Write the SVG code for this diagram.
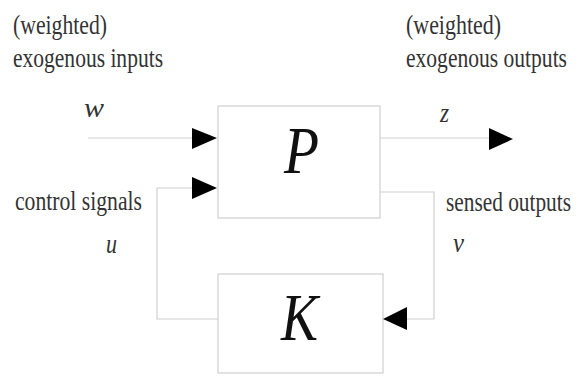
<svg xmlns="http://www.w3.org/2000/svg" width="579" height="376" viewBox="0 0 579 376">
<style>
.box{fill:#fff;stroke:#cfcfcf;stroke-width:1.2}
.ln{fill:none;stroke:#cfcfcf;stroke-width:1.2}
.ah{fill:#000}
text{font-family:'Liberation Serif','DejaVu Serif',serif}
.lbl{font-size:21px;fill:#333}
.var{font-style:italic;font-size:22px;fill:#333}
.big{font-style:italic;font-size:56px;fill:#111}
</style>
<rect width="579" height="376" fill="#fff"/>
<g id="P">
<rect class="box" x="218" y="106" width="162" height="112"/>
<text class="big" transform="translate(284,173) scale(1,1.2)" textLength="35" lengthAdjust="spacingAndGlyphs">P</text>
</g>
<g id="K">
<rect class="box" x="218" y="274" width="165" height="99"/>
<text class="big" transform="translate(281,340) scale(1,1.2)" textLength="37" lengthAdjust="spacingAndGlyphs">K</text>
</g>
<g id="connectors">
<line class="ln" x1="88" y1="138" x2="193" y2="138"/>
<polygon class="ah" points="192,128 217,138 192,149"/>
<line class="ln" x1="380" y1="138" x2="490" y2="138"/>
<polygon class="ah" points="489,128 513,139 489,150"/>
<polyline class="ln" points="218,319 157,319 157,188 193,188"/>
<polygon class="ah" points="192,177 217,188 192,199"/>
<polyline class="ln" points="380,192 434,192 434,319 406,319"/>
<polygon class="ah" points="407,307 383,319 407,330"/>
</g>
<g id="labels">
<text class="lbl" transform="translate(13,34) scale(1,1.3)" textLength="94" lengthAdjust="spacingAndGlyphs">(weighted)</text>
<text class="lbl" transform="translate(13,67) scale(1,1.3)" textLength="150" lengthAdjust="spacingAndGlyphs">exogenous inputs</text>
<text class="lbl" transform="translate(406,34) scale(1,1.3)" textLength="95" lengthAdjust="spacingAndGlyphs">(weighted)</text>
<text class="lbl" transform="translate(406,67) scale(1,1.3)" textLength="161" lengthAdjust="spacingAndGlyphs">exogenous outputs</text>
<text class="lbl" transform="translate(15,210) scale(1,1.3)" textLength="127" lengthAdjust="spacingAndGlyphs">control signals</text>
<text class="lbl" transform="translate(446,211) scale(1,1.3)" textLength="125" lengthAdjust="spacingAndGlyphs">sensed outputs</text>
<text class="var" transform="translate(84,117) scale(1,1.2)" textLength="20" lengthAdjust="spacingAndGlyphs">w</text>
<text class="var" transform="translate(440,122) scale(1,1.2)" textLength="9" lengthAdjust="spacingAndGlyphs">z</text>
<text class="var" transform="translate(106,253) scale(1,1.2)" textLength="11" lengthAdjust="spacingAndGlyphs">u</text>
<text class="var" transform="translate(453,252) scale(1,1.2)" textLength="11" lengthAdjust="spacingAndGlyphs">v</text>
</g>
</svg>
